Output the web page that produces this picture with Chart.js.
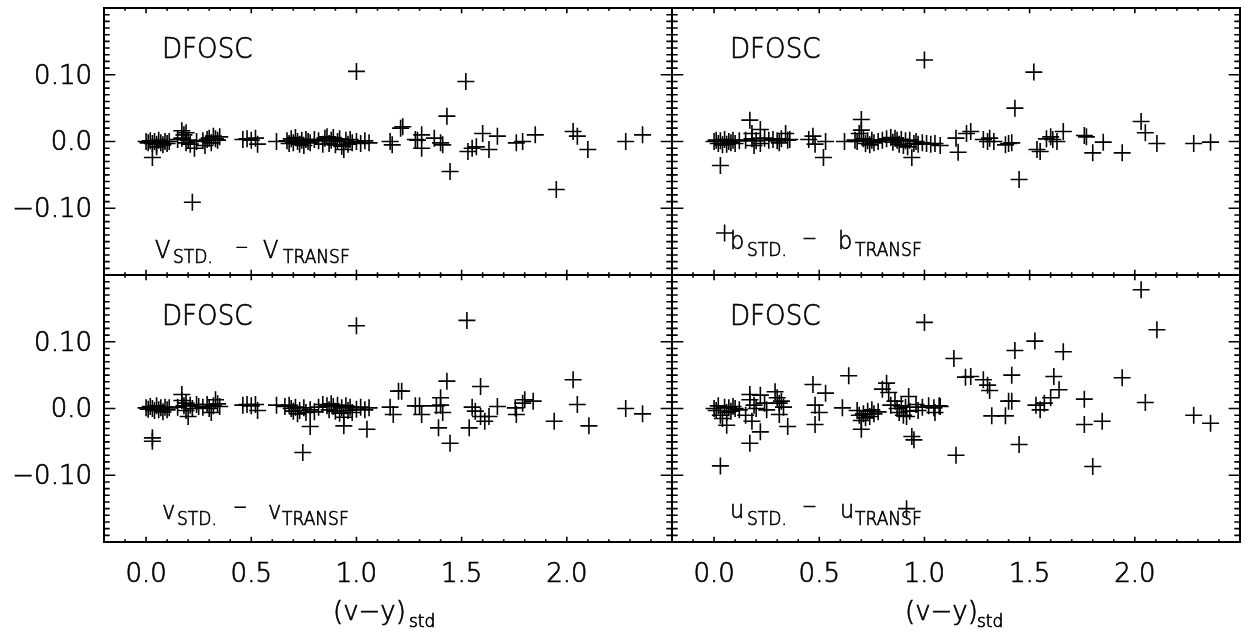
<!DOCTYPE html>
<html>
<head>
<meta charset="utf-8">
<script src="https://cdn.jsdelivr.net/npm/chart.js@4"></script>
<style>
  body { margin: 0; background: #fff; }
  #wrap { position: relative; width: 1245px; height: 633px; }
  #wrap canvas { position: absolute; left: 0; top: 0; }
</style>
</head>
<body>
<div id="wrap">
  <canvas id="panelV" width="1245" height="633"></canvas>
  <canvas id="panelB" width="1245" height="633"></canvas>
  <canvas id="panelLowV" width="1245" height="633"></canvas>
  <canvas id="panelU" width="1245" height="633"></canvas>
</div>
<script>
// residuals vs (v-y)std

// V_std - V_transf
const capVX = [
  0.00, 0.01, 0.02, 0.03, 0.03, 0.04, 0.05, 0.05, 0.06, 0.07, 0.08, 0.09, 0.10, 0.11,
  0.15, 0.17, 0.18, 0.17, 0.19, 0.20, 0.21, 0.22, 0.23, 0.24, 0.19,
  0.27, 0.28, 0.29, 0.30, 0.31, 0.32, 0.33, 0.34, 0.35,
  0.46, 0.48, 0.50, 0.52, 0.53,
  0.62,
  0.67, 0.68, 0.69, 0.70, 0.71, 0.72, 0.73, 0.74, 0.75, 0.76, 0.77, 0.78, 0.80, 0.82,
  0.84, 0.85, 0.86, 0.87, 0.88, 0.89, 0.90, 0.91, 0.92, 0.93, 0.94, 0.95, 0.96, 0.97, 0.98,
  1.00, 1.00, 1.02, 1.04, 1.06,
  1.16, 1.17, 1.21, 1.22, 1.28, 1.29, 1.31, 1.31, 1.37, 1.40, 1.41, 1.43, 1.445, 1.52,
  1.53, 1.55, 1.57, 1.60, 1.63, 1.67, 1.76, 1.79, 1.85, 1.95, 2.03, 2.05, 2.10, 2.28, 2.36
]
const capVY = [
  0.000, -0.002, 0.001, -0.003, -0.024, 0.000, -0.004, -0.008, 0.002, -0.002, -0.005, 0.000, -0.003, 0.000,
  0.003, 0.016, 0.010, 0.005, -0.002, 0.002, -0.004, -0.091, -0.010, 0.000, 0.013,
  0.001, -0.006, 0.003, 0.005, -0.002, 0.008, 0.004, 0.002, 0.007,
  0.003, 0.004, 0.002, 0.005, -0.004,
  0.000,
  0.001, -0.003, 0.004, -0.002, 0.006, 0.000, -0.004, 0.002, -0.006, 0.003, 0.000, -0.002, 0.003, 0.001,
  -0.004, 0.005, 0.007, -0.003, 0.002, 0.006, -0.005, 0.000, 0.004, -0.007, -0.012, 0.002, -0.004, 0.003, -0.002,
  0.105, 0.000, -0.003, 0.001, -0.002,
  0.000, -0.005, 0.020, 0.022, 0.003, 0.002, 0.010, -0.010, 0.005, -0.002, -0.005, 0.038, -0.045, 0.090,
  -0.015, -0.010, -0.008, 0.012, -0.012, 0.008, -0.002, 0.000, 0.010, -0.072, 0.015, 0.008, -0.012, 0.000, 0.010
]

// b_std - b_transf
const bX = [
  0.00, 0.01, 0.02, 0.03, 0.03, 0.04, 0.05, 0.05, 0.06, 0.07, 0.08, 0.09, 0.10, 0.12,
  0.15, 0.17, 0.18, 0.18, 0.19, 0.20, 0.22, 0.22, 0.24, 0.26,
  0.28, 0.30, 0.31, 0.32, 0.34, 0.35, 0.36,
  0.45, 0.47, 0.48, 0.52, 0.53, 0.62,
  0.67, 0.68, 0.69, 0.70, 0.70, 0.71, 0.72, 0.73, 0.74, 0.75, 0.76, 0.78, 0.80, 0.82,
  0.84, 0.85, 0.86, 0.87, 0.88, 0.89, 0.90, 0.91, 0.92, 0.93, 0.94, 0.95, 0.96, 0.97,
  0.99, 1.00, 1.01, 1.03, 1.05, 1.075,
  1.15, 1.16, 1.20, 1.22, 1.28, 1.30, 1.31, 1.33, 1.385, 1.40, 1.415, 1.43, 1.45,
  1.52, 1.535, 1.55, 1.58, 1.60, 1.61, 1.63, 1.66, 1.76, 1.77, 1.80, 1.85,
  1.94, 2.03, 2.05, 2.105, 2.28, 2.36
]
const bY = [
  0.000, 0.002, -0.003, -0.036, 0.001, -0.005, -0.137, 0.003, -0.004, 0.000, -0.002, 0.002, -0.003, 0.001,
  0.002, 0.032, 0.012, 0.004, -0.006, 0.001, 0.018, -0.003, 0.005, 0.002,
  0.003, 0.001, -0.002, 0.004, 0.012, 0.002, 0.003,
  0.003, 0.008, -0.004, -0.024, 0.000, 0.000,
  0.002, 0.000, 0.012, 0.033, 0.017, 0.004, -0.003, 0.001, -0.005, 0.002, -0.002, 0.000, 0.002, 0.004,
  0.006, -0.001, 0.005, 0.002, -0.004, 0.003, -0.006, 0.001, -0.008, 0.002, -0.024, -0.003, 0.000, -0.004,
  -0.002, 0.122, -0.003, -0.004, -0.003, -0.006,
  0.005, -0.016, 0.012, 0.015, 0.003, 0.000, 0.005, 0.000, -0.005, -0.003, -0.002, 0.050, -0.057,
  0.104, -0.012, -0.015, 0.004, 0.007, 0.003, 0.000, 0.015, 0.009, 0.007, -0.017, -0.001,
  -0.017, 0.030, 0.013, -0.003, -0.003, -0.001
]

// v_std - v_transf
const vX = [
  0.00, 0.01, 0.02, 0.03, 0.03, 0.03, 0.04, 0.05, 0.06, 0.07, 0.08, 0.09, 0.10, 0.11,
  0.15, 0.17, 0.17, 0.18, 0.19, 0.19, 0.20, 0.21, 0.22, 0.24, 0.25,
  0.27, 0.29, 0.30, 0.31, 0.32, 0.33, 0.34, 0.35,
  0.46, 0.48, 0.50, 0.52, 0.53, 0.62,
  0.66, 0.68, 0.69, 0.70, 0.71, 0.72, 0.73, 0.745, 0.75, 0.76, 0.78, 0.78, 0.80, 0.82,
  0.84, 0.86, 0.87, 0.88, 0.89, 0.90, 0.91, 0.92, 0.93, 0.94, 0.94, 0.95, 0.96, 0.97, 0.98,
  1.00, 1.00, 1.02, 1.04, 1.05, 1.06,
  1.16, 1.175, 1.20, 1.215, 1.28, 1.30, 1.31, 1.38, 1.39, 1.40, 1.40, 1.41, 1.43, 1.445,
  1.525, 1.536, 1.55, 1.565, 1.59, 1.59, 1.61, 1.63, 1.67, 1.755, 1.76, 1.79, 1.80, 1.84,
  1.94, 2.03, 2.05, 2.105, 2.28, 2.36
]
const vY = [
  0.001, -0.001, 0.003, -0.044, -0.049, 0.000, -0.003, 0.004, -0.002, 0.001, -0.005, 0.002, -0.002, 0.001,
  0.002, 0.021, 0.012, 0.004, -0.003, 0.008, -0.012, 0.005, 0.000, 0.006, 0.003,
  0.002, 0.006, 0.000, -0.006, 0.004, 0.013, 0.007, 0.003,
  0.005, 0.006, 0.004, 0.006, -0.003, 0.005,
  0.003, 0.005, 0.000, -0.004, 0.002, -0.008, -0.003, -0.066, 0.001, -0.006, -0.027, -0.002, -0.005, 0.002,
  0.006, 0.004, -0.002, 0.007, 0.003, -0.004, 0.005, -0.007, 0.001, -0.013, -0.026, 0.004, -0.003, 0.002, -0.006,
  0.124, -0.001, 0.002, -0.002, -0.031, 0.001,
  0.002, -0.009, 0.026, 0.026, 0.004, 0.004, -0.009, 0.004, -0.029, 0.016, 0.005, -0.006, 0.041, -0.052,
  0.132, -0.029, 0.002, -0.004, 0.033, -0.012, -0.019, -0.012, 0.003, 0.001, -0.009, 0.008, 0.013, 0.011,
  -0.019, 0.043, 0.006, -0.026, 0.000, -0.008
]

// u_std - u_transf
const uX = [
  0.00, 0.01, 0.02, 0.03, 0.03, 0.04, 0.05, 0.06, 0.06, 0.07, 0.08, 0.09, 0.10, 0.12,
  0.15, 0.17, 0.17, 0.17, 0.18, 0.19, 0.20, 0.22, 0.22, 0.24, 0.25,
  0.29, 0.30, 0.31, 0.31, 0.32, 0.33, 0.35,
  0.47, 0.48, 0.48, 0.50, 0.53, 0.61, 0.64,
  0.68, 0.69, 0.70, 0.70, 0.71, 0.72, 0.73, 0.74, 0.75, 0.76, 0.78, 0.80, 0.82, 0.83, 0.84,
  0.86, 0.87, 0.88, 0.89, 0.90, 0.91, 0.915, 0.915, 0.925, 0.93, 0.94, 0.95, 0.96, 0.97, 0.99,
  1.00, 1.02, 1.045, 1.05, 1.07,
  1.075, 1.14, 1.15, 1.195, 1.22, 1.28, 1.30, 1.31, 1.32, 1.385, 1.40, 1.415, 1.415, 1.43, 1.45,
  1.525, 1.53, 1.55, 1.57, 1.60, 1.615, 1.64, 1.66, 1.76, 1.76, 1.80, 1.845,
  1.94, 2.03, 2.05, 2.105, 2.28, 2.36
]
const uY = [
  0.000, -0.003, 0.004, -0.086, -0.010, -0.015, 0.002, -0.025, -0.006, 0.001, -0.004, 0.003, 0.000, -0.002,
  -0.010, -0.052, 0.021, 0.013, -0.019, 0.005, 0.000, 0.020, -0.035, 0.008, -0.002,
  0.025, 0.016, 0.008, -0.009, 0.011, 0.002, -0.027,
  0.036, 0.005, -0.024, -0.006, 0.023, 0.001, 0.049,
  -0.003, -0.010, -0.031, -0.018, -0.008, -0.014, -0.004, -0.012, -0.002, -0.008, -0.005, 0.029, 0.038, 0.024, 0.005,
  0.011, 0.000, -0.006, 0.004, -0.010, 0.002, -0.012, -0.150, 0.018, -0.004, -0.042, -0.047, 0.006, -0.003, 0.002,
  0.129, 0.004, 0.001, -0.006, 0.004,
  0.003, 0.075, -0.070, 0.047, 0.048, 0.043, 0.035, 0.027, -0.011, -0.011, 0.011, 0.011, 0.050, 0.087, -0.054,
  0.101, 0.005, -0.002, 0.008, 0.016, 0.048, 0.028, 0.085, 0.014, -0.024, -0.087, -0.019,
  0.046, 0.178, 0.009, 0.118, -0.010, -0.022
]

// axes
const xMin = -0.2, xMax = 2.5
const yMin = -0.2, yMax = 0.2
const xTickVals = [0, 0.5, 1, 1.5, 2]
const xTickText = ['0.0', '0.5', '1.0', '1.5', '2.0']
const yTickVals = [-0.1, 0, 0.1]
const yTickText = ['\u22120.10', '0.0', '0.10']
const xMinorStep = 0.1, xMajorEvery = 5
const yMinorStep = 0.01, yMajorEvery = 10

const FONT = "'DejaVu Sans', sans-serif"
const WEIGHT = '200'
const STROKE = 0.7
const W = 1245, H = 633


function drawText(ctx, str, x, y, size, sx = 0.9) {
    ctx.save()
    ctx.translate(x, y)
    ctx.scale(sx, 1)
    ctx.font = WEIGHT + ' ' + size + 'px ' + FONT
    ctx.fillStyle = '#000'
    ctx.strokeStyle = '#000'
    ctx.lineWidth = STROKE
    ctx.textAlign = 'left'
    ctx.textBaseline = 'alphabetic'
    ctx.fillText(str, 0, 0)
    ctx.strokeText(str, 0, 0)
    ctx.restore()
}

// box with inward ticks on all four sides, like the original plot
const framePlugin = {
    id: 'frame',
    afterDraw(chart) {
        const ctx = chart.ctx
        const a = chart.chartArea
        const xs = chart.scales.x
        const ys = chart.scales.y
        const w = a.right - a.left
        const h = a.bottom - a.top
        const yLen = 0.02 * w
        const xLen = 0.02 * h

        ctx.save()
        ctx.strokeStyle = '#000'
        ctx.lineWidth = 1.6
        ctx.beginPath()
        const k0 = Math.round(yMin / yMinorStep), k1 = Math.round(yMax / yMinorStep)
        for (let k = k0; k <= k1; k++) {
            const py = ys.getPixelForValue(k * yMinorStep)
            const len = k % yMajorEvery === 0 ? yLen : yLen / 2
            ctx.moveTo(a.left, py)
            ctx.lineTo(a.left + len, py)
            ctx.moveTo(a.right, py)
            ctx.lineTo(a.right - len, py)
        }
        const j0 = Math.round(xMin / xMinorStep), j1 = Math.round(xMax / xMinorStep)
        for (let j = j0; j <= j1; j++) {
            const px = xs.getPixelForValue(j * xMinorStep)
            const len = j % xMajorEvery === 0 ? xLen : xLen / 2
            ctx.moveTo(px, a.top)
            ctx.lineTo(px, a.top + len)
            ctx.moveTo(px, a.bottom)
            ctx.lineTo(px, a.bottom - len)
        }
        ctx.stroke()

        ctx.lineWidth = 2
        ctx.strokeRect(a.left, a.top, w, h)
        ctx.restore()
    }
}

const textPlugin = {
    id: 'panelText',
    afterDraw(chart, args, opts) {
        const ctx = chart.ctx
        drawText(ctx, 'DFOSC', opts.title[0], opts.title[1], 29)
        for (const p of opts.label) {
            drawText(ctx, p[0], p[1], p[2], p[3])
        }
        if (opts.xTitle) {
            const t = opts.xTitle
            drawText(ctx, '(v\u2212y)', t[0], t[1], 26, 1)
            drawText(ctx, 'std', t[2], t[3], 17, 1)
        }
    }
}


function createPanel(id, xs, ys, box, showX, showY, text) {
    const points = xs.map((x, i) => ({ x: x, y: ys[i] }))

    return new Chart(document.getElementById(id).getContext('2d'), {
        type: 'scatter',
        data: {
            datasets: [{
                data: points,
                pointStyle: 'cross',
                pointRadius: 8.5,
                pointHoverRadius: 8.5,
                pointBorderWidth: 1.6,
                borderColor: '#000',
                backgroundColor: '#000'
            }]
        },
        options: {
            responsive: false,
            animation: false,
            devicePixelRatio: 1,
            events: [],
            layout: {
                autoPadding: false,
                padding: { left: 0, right: W - box.right, top: box.top, bottom: 0 }
            },
            plugins: {
                legend: { display: false },
                tooltip: { enabled: false },
                panelText: text
            },
            scales: {
                x: {
                    type: 'linear',
                    min: xMin,
                    max: xMax,
                    grid: { display: false, drawTicks: false },
                    border: { display: false },
                    afterBuildTicks: s => { s.ticks = xTickVals.map(v => ({ value: v })) },
                    afterFit: s => {
                        s.height = H - box.bottom
                        s.paddingLeft = 0
                        s.paddingRight = 0
                    },
                    ticks: {
                        display: showX,
                        autoSkip: false,
                        maxRotation: 0,
                        padding: 18,
                        color: '#000',
                        textStrokeColor: '#000',
                        textStrokeWidth: STROKE,
                        font: { family: FONT, size: 26, weight: WEIGHT },
                        callback: v => xTickText[xTickVals.indexOf(v)]
                    }
                },
                y: {
                    type: 'linear',
                    min: yMin,
                    max: yMax,
                    grid: { display: false, drawTicks: false },
                    border: { display: false },
                    afterBuildTicks: s => { s.ticks = yTickVals.map(v => ({ value: v })) },
                    afterFit: s => {
                        s.width = box.left
                        s.paddingTop = 0
                        s.paddingBottom = 0
                    },
                    ticks: {
                        display: showY,
                        autoSkip: false,
                        padding: 12,
                        labelOffset: 2,
                        color: '#000',
                        textStrokeColor: '#000',
                        textStrokeWidth: STROKE,
                        font: { family: FONT, size: 26, weight: WEIGHT },
                        callback: v => yTickText[yTickVals.indexOf(v)]
                    }
                }
            }
        },
        plugins: [framePlugin, textPlugin]
    })
}

const DASH = '\u2212'

createPanel('panelV', capVX, capVY, { left: 104, right: 672, top: 8, bottom: 275 }, false, true, {
    title: [162, 58],
    label: [['V', 155, 258, 25], ['STD.', 173, 263, 19], [DASH, 235, 253, 18], ['V', 263, 258, 25], ['TRANSF', 283, 263, 19]]
})

createPanel('panelB', bX, bY, { left: 672, right: 1240, top: 8, bottom: 275 }, false, false, {
    title: [730, 58],
    label: [['b', 730, 249, 25], ['STD.', 747, 256, 19], [DASH, 802, 245, 20], ['b', 838, 249, 25], ['TRANSF', 855, 256, 19]]
})

createPanel('panelLowV', vX, vY, { left: 104, right: 672, top: 275, bottom: 542 }, true, true, {
    title: [162, 325],
    label: [['v', 162, 519, 25], ['STD.', 177, 525, 19], [DASH, 233, 513, 19], ['v', 268, 519, 25], ['TRANSF', 282, 525, 19]],
    xTitle: [333, 620, 409, 627]
})

createPanel('panelU', uX, uY, { left: 672, right: 1240, top: 275, bottom: 542 }, true, false, {
    title: [730, 325],
    label: [['u', 730, 518, 25], ['STD.', 747, 525, 19], [DASH, 802, 513, 20], ['u', 840, 518, 25], ['TRANSF', 855, 525, 19]],
    xTitle: [905, 620, 977, 627]
})
</script>
</body>
</html>
